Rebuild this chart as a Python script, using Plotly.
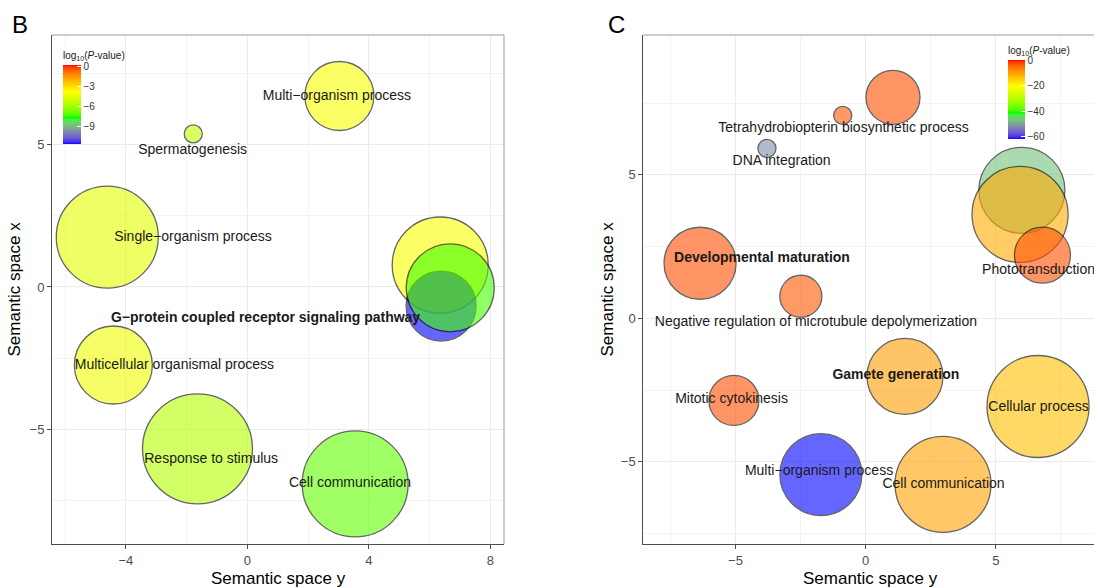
import plotly.graph_objects as go

# ---------------- Panel B data ----------------
b_terms = ["Multi-organism process", "Spermatogenesis", "Single-organism process",
           "Regulation (large yellow)", "Signaling (green)", "G-protein coupled receptor signaling pathway",
           "Multicellular organismal process", "Response to stimulus", "Cell communication"]
b_x = [3.03, -1.78, -4.61, 6.35, 6.68, 6.38, -4.41, -1.64, 3.55]
b_y = [6.70, 5.37, 1.75, 0.77, -0.03, -0.67, -2.74, -5.68, -6.91]
b_logp = [-3.9, -5.3, -4.5, -3.9, -7.4, -11.7, -4.2, -5.6, -7.1]
b_size = [69, 18, 102, 96, 88, 70, 78, 110, 106]
# drawing order (overlaps): large yellow, blue, green
b_order = [0, 1, 2, 3, 5, 4, 6, 7, 8]

b_label_text = ["Multi\u2212organism process", "Spermatogenesis", "Single\u2212organism process",
                "<b>G\u2212protein coupled receptor signaling pathway</b>",
                "Multicellular organismal process", "Response to stimulus", "Cell communication"]
b_label_x = [2.95, -1.80, -1.79, 0.60, -2.40, -1.19, 3.38]
b_label_y = [6.67, 4.77, 1.75, -1.09, -2.74, -6.04, -6.91]

# ---------------- Panel C data ----------------
c_x = [6.00, 5.93, 6.79, 1.05, -0.88, -3.79, -6.36, -2.49, 1.51, -5.06, 6.62, -1.72, 2.97]
c_y = [4.46, 3.62, 2.20, 7.70, 7.07, 5.92, 1.92, 0.77, -2.02, -2.86, -3.07, -5.44, -5.78]
c_logp = [-47, -11, -2.5, -2.5, -3, -52, -2.5, -3, -9.5, -2.5, -13, -62, -10]
c_size = [86, 96, 56, 54, 18, 18, 72, 42, 76, 50, 102, 82, 96]

c_label_text = ["Tetrahydrobiopterin biosynthetic process", "DNA integration", "Phototransduction",
                "<b>Developmental maturation</b>", "Negative regulation of microtubule depolymerization",
                "<b>Gamete generation</b>", "Mitotic cytokinesis", "Cellular process",
                "Multi\u2212organism process", "Cell communication"]
c_label_x = [-0.85, -3.23, 6.64, -3.98, -1.91, 1.16, -5.15, 6.64, -1.79, 2.99]
c_label_y = [6.63, 5.45, 1.65, 2.10, -0.13, -2.00, -2.82, -3.09, -5.33, -5.78]

b_cticks = [0, -3, -6, -9]
c_cticks = [0, -20, -40, -60]

# ---------------- colour scale (Lab interpolation blue-green-yellow-red) ----------------
def _lin(c):
    c = c / 255.0
    return c / 12.92 if c <= 0.04045 else ((c + 0.055) / 1.055) ** 2.4

def _gam(c):
    c = max(0.0, min(1.0, c))
    v = 12.92 * c if c <= 0.0031308 else 1.055 * c ** (1 / 2.4) - 0.055
    return max(0, min(255, round(v * 255)))

def rgb2lab(rgb):
    r, g, b = [_lin(v) for v in rgb]
    X = (0.4124 * r + 0.3576 * g + 0.1805 * b) / 0.95047
    Y = (0.2126 * r + 0.7152 * g + 0.0722 * b)
    Z = (0.0193 * r + 0.1192 * g + 0.9505 * b) / 1.08883
    d = 6 / 29
    f = lambda t: t ** (1 / 3) if t > d ** 3 else t / (3 * d * d) + 4 / 29
    fx, fy, fz = f(X), f(Y), f(Z)
    return 116 * fy - 16, 500 * (fx - fy), 200 * (fy - fz)

def lab2rgb(lab):
    L, a, b = lab
    d = 6 / 29
    fy = (L + 16) / 116
    fx = fy + a / 500
    fz = fy - b / 200
    fi = lambda t: t ** 3 if t > d else 3 * d * d * (t - 4 / 29)
    X, Y, Z = fi(fx) * 0.95047, fi(fy), fi(fz) * 1.08883
    r = 3.2406 * X - 1.5372 * Y - 0.4986 * Z
    g = -0.9689 * X + 1.8758 * Y + 0.0415 * Z
    bb = 0.0557 * X - 0.2040 * Y + 1.0570 * Z
    return _gam(r), _gam(g), _gam(bb)

base = [(0, 0, 255), (0, 255, 0), (255, 255, 0), (255, 0, 0)]
labs = [rgb2lab(c) for c in base]
colorscale = []
N = 60
for i in range(N + 1):
    t = i / N
    seg = min(int(t * 3), 2)
    u = t * 3 - seg
    l0, l1 = labs[seg], labs[seg + 1]
    lab = tuple(l0[k] + (l1[k] - l0[k]) * u for k in range(3))
    r, g, b = lab2rgb(lab)
    colorscale.append([t, f"rgb({r},{g},{b})"])

FONT = "Liberation Sans, Arial, sans-serif"
W, H = 1094, 588

fig = go.Figure()

# Panel B bubbles
fig.add_trace(go.Scatter(
    x=[b_x[i] for i in b_order], y=[b_y[i] for i in b_order], mode="markers",
    marker=dict(size=[b_size[i] for i in b_order], sizemode="diameter",
                color=[b_logp[i] for i in b_order], coloraxis="coloraxis",
                opacity=0.6, line=dict(color="black", width=1.3)),
    hoverinfo="skip", xaxis="x", yaxis="y"))
fig.add_trace(go.Scatter(
    x=b_label_x, y=b_label_y, mode="text", text=b_label_text, textposition="middle center",
    textfont=dict(size=14, color="#1a1a1a", family=FONT), hoverinfo="skip", xaxis="x", yaxis="y"))

# Panel C bubbles
fig.add_trace(go.Scatter(
    x=c_x, y=c_y, mode="markers",
    marker=dict(size=c_size, sizemode="diameter", color=c_logp, coloraxis="coloraxis2",
                opacity=0.6, line=dict(color="black", width=1.3)),
    hoverinfo="skip", xaxis="x2", yaxis="y2"))
fig.add_trace(go.Scatter(
    x=c_label_x, y=c_label_y, mode="text", text=c_label_text, textposition="middle center",
    textfont=dict(size=14, color="#1a1a1a", family=FONT), hoverinfo="skip", xaxis="x2", yaxis="y2"))

ydom = [44 / H, 553 / H]

def axis_common(dtick, minor_dtick):
    return dict(
        dtick=dtick, tick0=0, showgrid=True, gridcolor="#ebebeb", gridwidth=1,
        minor=dict(dtick=minor_dtick, tick0=0, showgrid=True, gridcolor="#f3f3f3", gridwidth=1),
        showline=True, linecolor="#4d4d4d", linewidth=1, ticks="outside", ticklen=4,
        tickcolor="#4d4d4d", tickfont=dict(size=13, color="#4d4d4d", family=FONT),
        zeroline=False, fixedrange=True)

fig.update_layout(
    width=W, height=H, margin=dict(l=0, r=0, t=0, b=0),
    paper_bgcolor="white", plot_bgcolor="white", showlegend=False,
    font=dict(family=FONT),
    xaxis=dict(domain=[52 / W, 504 / W], range=[-6.43, 8.45], anchor="y", **axis_common(4, 2)),
    yaxis=dict(domain=ydom, range=[-9.02, 8.84], anchor="x", **axis_common(5, 2.5)),
    xaxis2=dict(domain=[643.3 / W, 1.0], range=[-8.54, 8.77], anchor="y2", **axis_common(5, 2.5)),
    yaxis2=dict(domain=ydom, range=[-7.86, 9.87], anchor="x2", **axis_common(5, 2.5)),
    coloraxis=dict(
        colorscale=colorscale, cmin=-11.7, cmax=0.2,
        colorbar=dict(
            title=dict(text="log<sub>10</sub>(<i>P</i>-value)", side="top",
                       font=dict(size=10, color="#1a1a1a", family=FONT)),
            x=63 / W, xanchor="left", xpad=0, y=1 - 96 / H, yanchor="middle", ypad=0,
            len=96, lenmode="pixels", thickness=18, thicknessmode="pixels",
            outlinewidth=0, tickvals=b_cticks, ticks="inside", ticklen=4, tickcolor="white",
            tickfont=dict(size=10, color="#333333", family=FONT))),
    coloraxis2=dict(
        colorscale=colorscale, cmin=-62, cmax=0.5,
        colorbar=dict(
            title=dict(text="log<sub>10</sub>(<i>P</i>-value)", side="top",
                       font=dict(size=10, color="#1a1a1a", family=FONT)),
            x=1008 / W, xanchor="left", xpad=0, y=1 - 91 / H, yanchor="middle", ypad=0,
            len=96, lenmode="pixels", thickness=17, thicknessmode="pixels",
            outlinewidth=0, tickvals=c_cticks, ticks="inside", ticklen=4, tickcolor="white",
            tickfont=dict(size=10, color="#333333", family=FONT))),
)

# frame (top/right borders)
border = dict(color="#9a9a9a", width=1)
fig.add_shape(type="line", xref="x domain", yref="y domain", x0=0, x1=1, y0=1, y1=1, line=border)
fig.add_shape(type="line", xref="x domain", yref="y domain", x0=1, x1=1, y0=0, y1=1, line=border)
fig.add_shape(type="line", xref="x2 domain", yref="y2 domain", x0=0, x1=1, y0=1, y1=1, line=border)

# axis titles and panel letters
ann = dict(showarrow=False, xref="paper", yref="paper", xanchor="center", yanchor="middle",
           font=dict(size=17, color="black", family=FONT))
fig.add_annotation(text="Semantic space y", x=278 / W, y=1 - 578 / H, **ann)
fig.add_annotation(text="Semantic space y", x=870 / W, y=1 - 578 / H, **ann)
fig.add_annotation(text="Semantic space x", x=14 / W, y=1 - 289.5 / H, textangle=-90, **ann)
fig.add_annotation(text="Semantic space x", x=607 / W, y=1 - 289.5 / H, textangle=-90, **ann)
letter = dict(showarrow=False, xref="paper", yref="paper", xanchor="center", yanchor="middle",
              font=dict(size=24, color="black", family=FONT))
fig.add_annotation(text="B", x=20 / W, y=1 - 25 / H, **letter)
fig.add_annotation(text="C", x=616 / W, y=1 - 25 / H, **letter)

fig.write_html("out.html")
